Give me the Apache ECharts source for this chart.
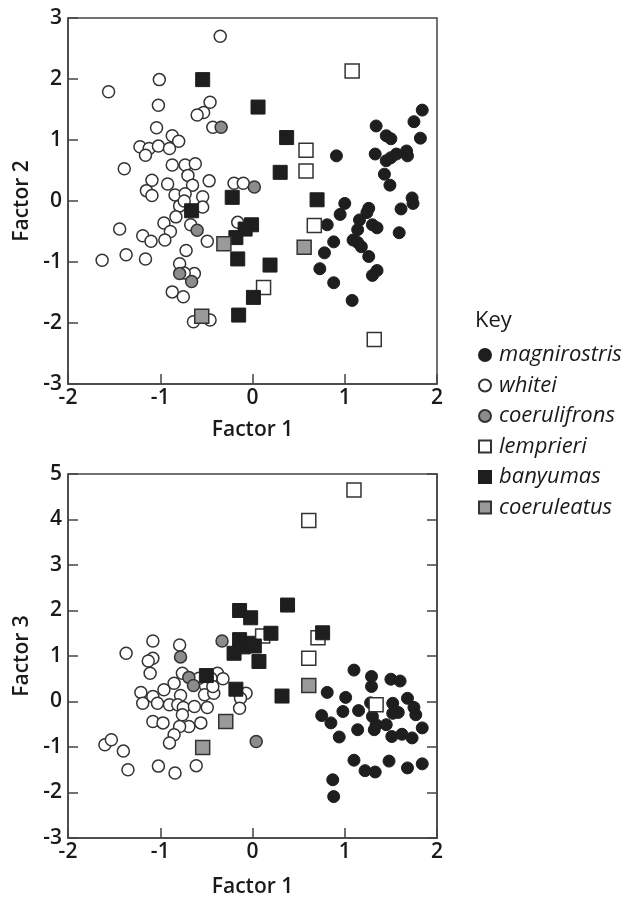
<!DOCTYPE html>
<html>
<head>
<meta charset="utf-8">
<script src="https://cdn.jsdelivr.net/npm/echarts@6/dist/echarts.min.js"></script>
<style>
    html, body { margin: 0; padding: 0; background: #fff; }
    #chart { width: 634px; height: 899px; }
</style>
</head>
<body>
<div id="chart"></div>
<script>
// Factor 1 vs Factor 2 (top panel), [x, y]
const whiteiF2 = [[-0.35,2.70],[-1.01,1.99],[-1.56,1.79],[-1.02,1.57],[-0.46,1.62],[-0.53,1.45],[-0.60,1.41],[-0.43,1.21],[-1.04,1.20],[-0.87,1.07],[-0.80,0.98],[-1.22,0.89],[-1.12,0.86],[-1.02,0.90],[-1.16,0.75],[-0.90,0.86],[-1.39,0.53],[-0.87,0.59],[-0.73,0.59],[-0.62,0.61],[-0.70,0.42],[-1.09,0.34],[-0.92,0.28],[-0.65,0.26],[-0.47,0.33],[-1.15,0.17],[-1.09,0.09],[-0.84,0.10],[-0.73,0.12],[-0.54,0.07],[-0.79,-0.08],[-0.74,0.00],[-0.54,-0.10],[-0.83,-0.26],[-0.96,-0.36],[-0.89,-0.50],[-0.67,-0.39],[-1.44,-0.46],[-1.19,-0.57],[-1.10,-0.66],[-0.95,-0.64],[-0.49,-0.66],[-0.16,-0.35],[-0.20,0.29],[-0.10,0.29],[-1.37,-0.88],[-1.63,-0.97],[-1.16,-0.95],[-0.72,-0.81],[-0.79,-1.03],[-0.63,-1.19],[-0.74,-1.18],[-0.87,-1.49],[-0.75,-1.57],[-0.64,-1.98],[-0.46,-1.95]];
const magnirostrisF2 = [[0.91,0.74],[1.34,1.23],[1.45,1.07],[1.50,1.02],[1.84,1.49],[1.75,1.30],[1.82,1.03],[1.33,0.77],[1.45,0.66],[1.50,0.71],[1.56,0.77],[1.67,0.82],[1.68,0.74],[1.43,0.44],[1.49,0.26],[1.73,0.05],[1.74,-0.04],[1.61,-0.13],[1.59,-0.52],[1.00,-0.04],[0.95,-0.22],[0.81,-0.39],[0.88,-0.67],[0.78,-0.85],[0.73,-1.11],[0.88,-1.34],[1.08,-1.63],[1.26,-0.12],[1.24,-0.19],[1.16,-0.31],[1.14,-0.47],[1.09,-0.64],[1.14,-0.68],[1.18,-0.75],[1.26,-0.91],[1.30,-0.39],[1.35,-0.44],[1.30,-1.22],[1.35,-1.14]];
const coerulifronsF2 = [[-0.34,1.21],[0.02,0.23],[-0.60,-0.48],[-0.79,-1.19],[-0.66,-1.32]];
const lemprieriF2 = [[1.08,2.13],[0.58,0.83],[0.58,0.49],[0.67,-0.40],[0.12,-1.42],[1.32,-2.27]];
const banyumasF2 = [[-0.54,1.99],[0.06,1.54],[0.37,1.04],[0.30,0.47],[0.70,0.02],[-0.22,0.06],[-0.66,-0.16],[-0.01,-0.39],[-0.08,-0.46],[-0.18,-0.60],[-0.16,-0.95],[0.19,-1.05],[0.01,-1.58],[-0.15,-1.87]];
const coeruleatusF2 = [[-0.31,-0.70],[0.56,-0.76],[-0.55,-1.89]];

// Factor 1 vs Factor 3 (bottom panel), [x, y]
const whiteiF3 = [[-1.37,1.06],[-1.08,1.33],[-0.79,1.24],[-1.08,0.95],[-1.13,0.89],[-1.11,0.62],[-0.76,0.62],[-0.38,0.62],[-0.32,0.50],[-0.51,0.35],[-0.85,0.40],[-0.96,0.26],[-0.78,0.13],[-1.21,0.20],[-1.08,0.11],[-1.19,-0.04],[-1.03,-0.04],[-0.90,-0.07],[-0.81,-0.07],[-0.75,-0.13],[-0.63,-0.11],[-0.52,0.15],[-0.42,0.18],[-0.49,-0.13],[-0.07,0.18],[-0.13,0.07],[-0.14,-0.15],[-1.08,-0.44],[-0.97,-0.47],[-0.56,-0.47],[-0.76,-0.29],[-0.69,-0.55],[-0.79,-0.55],[-0.85,-0.73],[-0.90,-0.91],[-1.60,-0.95],[-1.53,-0.84],[-1.40,-1.09],[-1.35,-1.50],[-1.02,-1.42],[-0.84,-1.57],[-0.61,-1.41],[-0.58,0.51],[-0.45,0.51],[-0.43,0.33]];
const magnirostrisF3 = [[1.10,0.69],[1.29,0.55],[1.29,0.33],[1.50,0.49],[1.60,0.45],[0.81,0.20],[1.01,0.09],[1.68,0.07],[1.52,-0.04],[1.75,-0.13],[1.77,-0.29],[0.75,-0.31],[0.85,-0.47],[0.98,-0.22],[1.15,-0.20],[1.14,-0.62],[0.94,-0.78],[1.30,-0.33],[1.34,-0.51],[1.32,-0.62],[1.45,-0.51],[1.52,-0.26],[1.58,-0.24],[1.51,-0.77],[1.62,-0.72],[1.73,-0.80],[1.84,-0.58],[1.10,-1.29],[1.22,-1.52],[1.33,-1.55],[1.48,-1.31],[1.68,-1.46],[1.84,-1.37],[0.87,-1.72],[0.88,-2.09],[1.28,-0.03]];
const coerulifronsF3 = [[-0.33,1.33],[-0.78,0.98],[-0.69,0.53],[-0.64,0.35],[0.04,-0.88]];
const lemprieriF3 = [[1.10,4.65],[0.61,3.98],[0.71,1.40],[0.61,0.95],[0.11,1.44],[1.34,-0.07]];
const banyumasF3 = [[-0.14,2.00],[-0.02,1.84],[0.38,2.12],[0.20,1.50],[0.76,1.51],[-0.14,1.36],[-0.05,1.28],[-0.20,1.06],[0.07,0.88],[-0.50,0.57],[-0.18,0.27],[0.32,0.12],[-0.10,1.20],[0.02,1.22]];
const coeruleatusF3 = [[-0.29,-0.44],[-0.54,-1.01],[0.61,0.35]];

const factor1Ticks = [-2, 2, 1];   // min, max, step
const factor2Ticks = [-3, 3, 1];
const factor3Ticks = [-3, 5, 1];

const legendOrder = ['magnirostris', 'whitei', 'coerulifrons', 'lemprieri', 'banyumas', 'coeruleatus'];

const fontFamily = '"Open Sans", Lato, sans-serif';
const ink = '#1a1a1a';
const lineColor = '#444';

const styles = {
    whitei:       {symbol: 'circle', symbolSize: 12, itemStyle: {opacity: 1, color: '#fff', borderColor: '#333', borderWidth: 1.5}},
    magnirostris: {symbol: 'circle', symbolSize: 12, itemStyle: {opacity: 1, color: '#1e1e1e', borderColor: '#1e1e1e', borderWidth: 1}},
    coerulifrons: {symbol: 'circle', symbolSize: 12, itemStyle: {opacity: 1, color: '#8c8c8c', borderColor: '#333', borderWidth: 1.5}},
    lemprieri:    {symbol: 'rect', symbolSize: 14, itemStyle: {opacity: 1, color: '#fff', borderColor: '#333', borderWidth: 1.5}},
    banyumas:     {symbol: 'rect', symbolSize: 14, itemStyle: {opacity: 1, color: '#1e1e1e', borderColor: '#1e1e1e', borderWidth: 1}},
    coeruleatus:  {symbol: 'rect', symbolSize: 14, itemStyle: {opacity: 1, color: '#9a9a9a', borderColor: '#333', borderWidth: 1.5}},
};

// draw order: open circles at the back
const panels = [
    {whitei: whiteiF2, magnirostris: magnirostrisF2, coerulifrons: coerulifronsF2, lemprieri: lemprieriF2, banyumas: banyumasF2, coeruleatus: coeruleatusF2},
    {whitei: whiteiF3, magnirostris: magnirostrisF3, coerulifrons: coerulifronsF3, lemprieri: lemprieriF3, banyumas: banyumasF3, coeruleatus: coeruleatusF3},
];
const drawOrder = ['whitei', 'magnirostris', 'coerulifrons', 'lemprieri', 'banyumas', 'coeruleatus'];

const axisText = {fontFamily: fontFamily, fontSize: 21, fontWeight: 600, color: ink};

function xAxisFor(gridIndex, ticks, nameGap) {
    return {
        gridIndex: gridIndex,
        type: 'value',
        min: ticks[0], max: ticks[1], interval: ticks[2],
        name: 'Factor 1',
        nameLocation: 'middle',
        nameGap: nameGap,
        nameTextStyle: axisText,
        splitLine: {show: false},
        axisLine: {show: true, onZero: false, lineStyle: {color: lineColor, width: 1.5}},
        axisTick: {show: true, inside: true, length: 10, lineStyle: {color: lineColor, width: 1.5}},
        axisLabel: Object.assign({margin: 4}, axisText),
    };
}

function yAxisFor(gridIndex, ticks, name) {
    return {
        gridIndex: gridIndex,
        type: 'value',
        min: ticks[0], max: ticks[1], interval: ticks[2],
        name: name,
        nameLocation: 'middle',
        nameGap: 34,
        nameTextStyle: axisText,
        splitLine: {show: false},
        axisLine: {show: true, onZero: false, lineStyle: {color: lineColor, width: 1.5}},
        axisTick: {show: true, inside: true, length: 10, lineStyle: {color: lineColor, width: 1.5}},
        axisLabel: Object.assign({margin: 6}, axisText),
    };
}

const series = [];
panels.forEach((panel, p) => {
    drawOrder.forEach(name => {
        series.push(Object.assign({
            name: name,
            type: 'scatter',
            xAxisIndex: p,
            yAxisIndex: p,
            data: panel[name],
        }, styles[name]));
    });
});

const chart = echarts.init(document.getElementById('chart'), null, {renderer: 'canvas'});

chart.setOption({
    animation: false,
    backgroundColor: '#fff',
    textStyle: {fontFamily: fontFamily, color: ink},
    title: {
        text: 'Key',
        left: 470,
        top: 305,
        textStyle: {fontFamily: fontFamily, fontSize: 22, fontWeight: 'normal', color: ink},
    },
    legend: {
        data: legendOrder,
        orient: 'vertical',
        left: 473,
        top: 339,
        itemWidth: 12,
        itemHeight: 12,
        itemGap: 8.5,
        textStyle: {fontFamily: fontFamily, fontSize: 22, fontStyle: 'italic', color: ink, lineHeight: 22, padding: [0, 0, 0, 3]},
    },
    grid: [
        {left: 68, top: 18, width: 369, height: 366, show: true, borderColor: lineColor, borderWidth: 1.5},
        {left: 68, top: 474, width: 369, height: 366, show: true, borderColor: lineColor, borderWidth: 1.5},
    ],
    xAxis: [
        xAxisFor(0, factor1Ticks, 36),
        xAxisFor(1, factor1Ticks, 39),
    ],
    yAxis: [
        yAxisFor(0, factor2Ticks, 'Factor 2'),
        yAxisFor(1, factor3Ticks, 'Factor 3'),
        // right-hand ticks on the lower panel
        {
            gridIndex: 1,
            type: 'value',
            position: 'right',
            min: factor3Ticks[0], max: factor3Ticks[1], interval: factor3Ticks[2],
            splitLine: {show: false},
            axisLine: {show: true, onZero: false, lineStyle: {color: lineColor, width: 1.5}},
            axisTick: {show: true, inside: true, length: 10, lineStyle: {color: lineColor, width: 1.5}},
            axisLabel: {show: false},
        },
    ],
    series: series,
});
</script>
</body>
</html>
